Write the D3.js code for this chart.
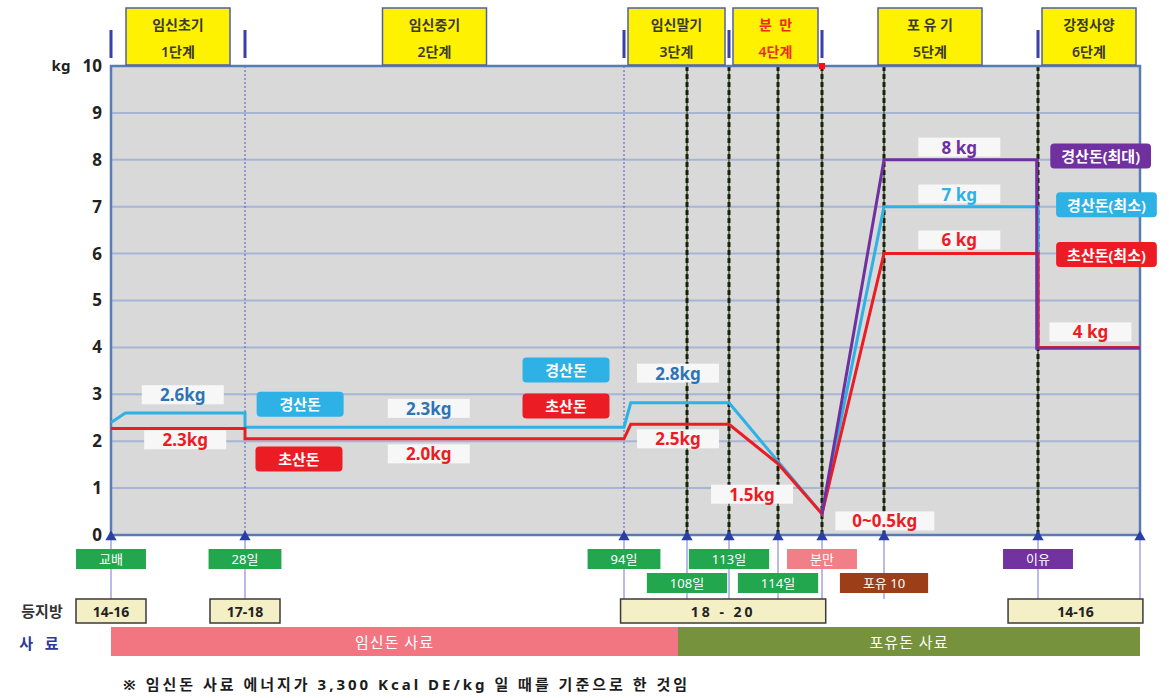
<!DOCTYPE html>
<html>
<head>
<meta charset="utf-8">
<script src="https://cdn.jsdelivr.net/npm/d3@7"></script>
<style>
    body { margin: 0; background: #fff; }
    text { font-family: "Noto Sans", "Noto Sans CJK KR", sans-serif; }
</style>
</head>
<body>
<div id="chart"></div>
<script>
// ---- data ----
// events along the cycle, day 0 = 교배
const eventNames = ["교배", "28일", "94일", "108일", "113일", "114일", "분만", "포유 10", "이유", ""];
const eventDays = [0, 28, 94, 108, 113, 114, 115, 125, 143, 150];
const eventKinds = ["green", "green", "green", "green", "green", "green", "birth", "lact", "wean", null];

const stageNames = ["임신초기", "임신중기", "임신말기", "분  만", "포 유 기", "강정사양"];
const stageSteps = ["1단계", "2단계", "3단계", "4단계", "5단계", "6단계"];
const stageBounds = [0, 28, 94, 113, 115, 143, 150];

// feed intake, kg/day  [day, kg]
const multiparous = [[0, 2.4], [3, 2.6], [28, 2.6], [28, 2.3], [94, 2.3], [95.5, 2.82], [113, 2.82],
    [114, 1.57], [115, 0.45], [125, 7], [143, 7], [143, 4], [150, 4]];
const primiparous = [[0, 2.27], [28, 2.27], [28, 2.05], [94, 2.05], [95.5, 2.36], [113, 2.36],
    [114, 1.52], [115, 0.45], [125, 6], [143, 6], [143, 4], [150, 4]];
const multiparousMax = [[115, 0.45], [125, 8], [142.85, 8], [142.85, 3.98], [150, 3.98]];

const valueLabels = [
    {text: "2.6kg", day: 15, kg: 2.99, tone: "blue"},
    {text: "2.3kg", day: 15.5, kg: 2.03, tone: "red"},
    {text: "2.3kg", day: 60, kg: 2.70, tone: "blue"},
    {text: "2.0kg", day: 60, kg: 1.73, tone: "red"},
    {text: "2.8kg", day: 106, kg: 3.45, tone: "blue"},
    {text: "2.5kg", day: 106, kg: 2.05, tone: "red"},
    {text: "1.5kg", day: 113.47, kg: 0.87, tone: "red"},
    {text: "0~0.5kg", day: 125.1, kg: 0.3, tone: "red"},
    {text: "8 kg", day: 133.8, kg: 8.27, tone: "purple"},
    {text: "7 kg", day: 133.8, kg: 7.27, tone: "cyan"},
    {text: "6 kg", day: 133.8, kg: 6.29, tone: "red"},
    {text: "4 kg", day: 146.6, kg: 4.33, tone: "red"}
];

const seriesTags = [
    {text: "경산돈", day: 37.6, kg: 2.79, tone: "cyan"},
    {text: "초산돈", day: 37.4, kg: 1.62, tone: "red"},
    {text: "경산돈", day: 83.9, kg: 3.52, tone: "cyan"},
    {text: "초산돈", day: 83.9, kg: 2.75, tone: "red"},
    {text: "경산돈(최대)", day: 147.3, kg: 8.08, tone: "purple"},
    {text: "경산돈(최소)", day: 147.7, kg: 7.04, tone: "cyan"},
    {text: "초산돈(최소)", day: 147.7, kg: 5.98, tone: "red"}
];

// 등지방 (backfat, mm)
const backfatLabels = ["14-16", "17-18", "18 - 20", "14-16"];
const backfatSpans = [[0, 0], [28, 28], [93.4, 115.6], [139.5, 150.2]];

const feedNames = ["임신돈 사료", "포유돈 사료"];
const feedSpans = [[0, 106], [106, 150]];

const footnote = "※ 임신돈 사료 에너지가 3,300 Kcal DE/kg 일 때를 기준으로 한 것임";

// ---- setup ----
const WIDTH = 1169;
const HEIGHT = 698;
const plot = {left: 111, right: 1140, top: 66, bottom: 535};

const svg = d3.select("#chart").append("svg")
    .attr("width", WIDTH)
    .attr("height", HEIGHT);

// piecewise time axis: the picture is not drawn to scale in days
const x = d3.scaleLinear()
    .domain(eventDays)
    .range([111, 245, 624, 687, 729, 778, 822, 884, 1038, 1140]);

const y = d3.scaleLinear()
    .domain([0, 10])
    .range([plot.bottom, plot.top]);

const tone = d3.scaleOrdinal()
    .domain(["cyan", "red", "purple", "blue"])
    .range(["#2eb1e4", "#ec1c24", "#7030a0", "#2e74b5"]);

const eventColor = d3.scaleOrdinal()
    .domain(["green", "birth", "lact", "wean"])
    .range(["#22a64e", "#f07f88", "#9c3f18", "#7232a0"]);

// ---- plot area ----
svg.append("rect")
    .attr("x", plot.left).attr("y", plot.top)
    .attr("width", plot.right - plot.left)
    .attr("height", plot.bottom - plot.top)
    .attr("fill", "#d9d9d9");

svg.append("g").selectAll("line")
    .data(y.ticks(10).filter(d => d > 0 && d < 10))
    .join("line")
    .attr("x1", plot.left).attr("x2", plot.right)
    .attr("y1", d => y(d)).attr("y2", d => y(d))
    .attr("stroke", "#a7b5d4")
    .attr("stroke-width", 2);

// thin dotted lines (28일, 94일)
svg.append("g").selectAll("line")
    .data([28, 94])
    .join("line")
    .attr("x1", d => x(d)).attr("x2", d => x(d))
    .attr("y1", plot.top).attr("y2", plot.bottom)
    .attr("stroke", "#5656c8")
    .attr("stroke-width", 1)
    .attr("stroke-dasharray", "2,2");

// heavy dashed lines
const heavy = [108, 113, 114, 115, 125, 143];
svg.append("g").selectAll("line")
    .data(heavy)
    .join("line")
    .attr("x1", d => x(d)).attr("x2", d => x(d))
    .attr("y1", plot.top).attr("y2", plot.bottom)
    .attr("stroke", "#6a7a4c")
    .attr("stroke-width", 2);
svg.append("g").selectAll("line")
    .data(heavy)
    .join("line")
    .attr("x1", d => x(d)).attr("x2", d => x(d))
    .attr("y1", plot.top).attr("y2", plot.bottom)
    .attr("stroke", "#18200f")
    .attr("stroke-width", 3)
    .attr("stroke-dasharray", "5,3");

svg.append("rect")
    .attr("x", plot.left).attr("y", plot.top)
    .attr("width", plot.right - plot.left)
    .attr("height", plot.bottom - plot.top)
    .attr("fill", "none")
    .attr("stroke", "#5a7cb4")
    .attr("stroke-width", 2.5);

svg.append("rect")
    .attr("x", x(115) - 3).attr("y", plot.top - 3)
    .attr("width", 6).attr("height", 6)
    .attr("fill", "#ff1010");

// y axis
const yAxis = svg.append("g")
    .attr("transform", "translate(" + (plot.left - 9) + ",0)")
    .call(d3.axisLeft(y).ticks(10).tickSize(0).tickPadding(0));
yAxis.select(".domain").remove();
yAxis.selectAll("text")
    .attr("font-size", 17)
    .attr("font-weight", "bold")
    .attr("fill", "#222");

svg.append("text")
    .attr("x", 61).attr("y", plot.top)
    .attr("dy", "0.32em")
    .attr("text-anchor", "middle")
    .attr("font-size", 15)
    .attr("font-weight", "bold")
    .attr("fill", "#222")
    .text("kg");

// ---- lines ----
const line = d3.line()
    .x(d => x(d[0]))
    .y(d => y(d[1]));

[[multiparous, "cyan"], [primiparous, "red"], [multiparousMax, "purple"]].forEach(([data, c]) => {
    svg.append("path")
        .datum(data)
        .attr("d", line)
        .attr("fill", "none")
        .attr("stroke", tone(c))
        .attr("stroke-width", 3);
});

// ---- labels helper: text with a box sized to it ----
function boxedText(g, opts) {
    const t = g.append("text")
        .attr("x", opts.cx).attr("y", opts.cy)
        .attr("text-anchor", "middle")
        .attr("dominant-baseline", "central")
        .attr("font-size", opts.size)
        .attr("font-weight", opts.weight || "bold")
        .attr("fill", opts.color)
        .attr("letter-spacing", opts.spacing || 0)
        .text(opts.text);
    const w = Math.max(opts.minW || 0, t.node().getComputedTextLength() + (opts.pad || 0));
    const r = g.insert("rect", () => t.node())
        .attr("x", opts.cx - w / 2)
        .attr("y", opts.cy - opts.h / 2)
        .attr("width", w)
        .attr("height", opts.h)
        .attr("rx", opts.rx || 0)
        .attr("fill", opts.fill);
    if (opts.stroke) r.attr("stroke", opts.stroke).attr("stroke-width", opts.strokeWidth || 1.5);
    return [opts.cx - w / 2, opts.cx + w / 2];
}

const ann = svg.append("g");
valueLabels.forEach(d => {
    boxedText(ann, {cx: x(d.day), cy: y(d.kg), text: d.text, size: 17, color: tone(d.tone),
        fill: "#f7f7f7", h: 19, pad: 34, minW: 82});
});
seriesTags.forEach(d => {
    boxedText(ann, {cx: x(d.day), cy: y(d.kg), text: d.text, size: 15, weight: 600, color: "#fff",
        fill: tone(d.tone), h: 25, pad: 22, minW: 87, rx: 4});
});

// ---- stage headers ----
const header = svg.append("g");
stageNames.forEach((name, i) => {
    const x0 = x(stageBounds[i]), x1 = x(stageBounds[i + 1]);
    const cx = (x0 + x1) / 2;
    const w = Math.min(104, x1 - x0 - 8);
    header.append("rect")
        .attr("x", cx - w / 2).attr("y", 8)
        .attr("width", w).attr("height", 57)
        .attr("fill", "#fff200")
        .attr("stroke", "#4f5fa8")
        .attr("stroke-width", 1.5);
    const col = i === 3 ? "#ee2a1c" : "#3a3a2c";
    header.append("text")
        .attr("x", cx).attr("y", 24)
        .attr("text-anchor", "middle").attr("dominant-baseline", "central")
        .attr("font-size", 14).attr("font-weight", 600).attr("fill", col)
        .attr("style", "white-space:pre")
        .text(name);
    header.append("text")
        .attr("x", cx).attr("y", 51)
        .attr("text-anchor", "middle").attr("dominant-baseline", "central")
        .attr("font-size", 14).attr("font-weight", 600).attr("fill", col)
        .text(stageSteps[i]);
});
header.selectAll(".mark")
    .data(stageBounds.slice(0, -1))
    .join("rect")
    .attr("class", "mark")
    .attr("x", d => x(d) - 1.5).attr("y", 30)
    .attr("width", 3).attr("height", 28)
    .attr("fill", "#3b3fa8");

// ---- bottom: events ----
const bottom = svg.append("g");
bottom.selectAll(".drop")
    .data(eventDays)
    .join("line")
    .attr("class", "drop")
    .attr("x1", d => x(d)).attr("x2", d => x(d))
    .attr("y1", plot.bottom + 4).attr("y2", 599)
    .attr("stroke", "#7777d6")
    .attr("stroke-width", 1);

bottom.selectAll(".tri")
    .data(eventDays)
    .join("path")
    .attr("class", "tri")
    .attr("d", d3.symbol(d3.symbolTriangle, 55))
    .attr("transform", d => "translate(" + x(d) + "," + (plot.bottom + 2) + ")")
    .attr("fill", "#2a3fa6");

// event tags, a second row when they would overlap
let rowEnd = -Infinity;
eventNames.forEach((name, i) => {
    if (!name) return;
    const g = bottom.append("g");
    const t = g.append("text").attr("font-size", 13).text(name);
    const w = Math.max(64, t.node().getComputedTextLength() + 46);
    t.remove();
    const cx = x(eventDays[i]);
    let row = 0;
    if (cx - w / 2 < rowEnd) row = 1;
    const ext = boxedText(g, {cx: cx, cy: row ? 583 : 559, text: name, size: 13, weight: "normal",
        color: "#fff", fill: eventColor(eventKinds[i]), h: 20, minW: w});
    if (row === 0) rowEnd = ext[1];
});

// 등지방
svg.append("text")
    .attr("x", 42).attr("y", 611)
    .attr("text-anchor", "middle").attr("dominant-baseline", "central")
    .attr("font-size", 15).attr("font-weight", "bold").attr("fill", "#333")
    .text("등지방");
backfatLabels.forEach((lab, i) => {
    const [d0, d1] = backfatSpans[i];
    const x0 = d0 === d1 ? x(d0) - 35 : x(d0);
    const x1 = d0 === d1 ? x(d0) + 35 : x(d1);
    svg.append("rect")
        .attr("x", x0).attr("y", 599)
        .attr("width", x1 - x0).attr("height", 24)
        .attr("fill", "#f4efc4")
        .attr("stroke", "#3a3a3a")
        .attr("stroke-width", 1.5);
    svg.append("text")
        .attr("x", (x0 + x1) / 2).attr("y", 611)
        .attr("text-anchor", "middle").attr("dominant-baseline", "central")
        .attr("font-size", 14).attr("font-weight", "bold").attr("fill", "#222")
        .attr("letter-spacing", lab.includes(" ") ? 3 : 0)
        .text(lab);
});

// 사료
svg.append("text")
    .attr("x", 39).attr("y", 643)
    .attr("text-anchor", "middle").attr("dominant-baseline", "central")
    .attr("font-size", 15).attr("font-weight", "bold").attr("fill", "#2b3a9a")
    .attr("style", "white-space:pre")
    .text("사   료");
const feedColor = ["#f27582", "#76923c"];
feedNames.forEach((name, i) => {
    const [d0, d1] = feedSpans[i];
    svg.append("rect")
        .attr("x", x(d0)).attr("y", 627)
        .attr("width", x(d1) - x(d0)).attr("height", 29)
        .attr("fill", feedColor[i]);
    svg.append("text")
        .attr("x", (x(d0) + x(d1)) / 2).attr("y", 641.5)
        .attr("text-anchor", "middle").attr("dominant-baseline", "central")
        .attr("font-size", 15).attr("fill", "#fff")
        .attr("letter-spacing", 1)
        .text(name);
});

svg.append("text")
    .attr("x", 123).attr("y", 684)
    .attr("dominant-baseline", "central")
    .attr("font-size", 15).attr("font-weight", "bold").attr("fill", "#1c1c1c")
    .attr("letter-spacing", 3)
    .text(footnote);
</script>
</body>
</html>
